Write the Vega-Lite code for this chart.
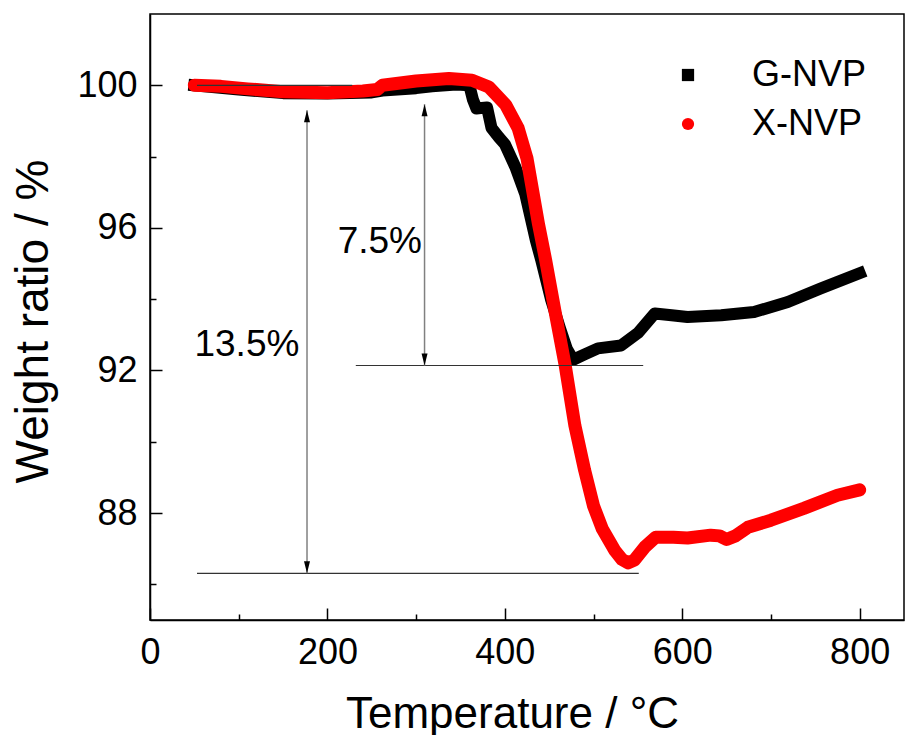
{
  "$schema": "https://vega.github.io/schema/vega-lite/v6.json",
  "width": 754,
  "height": 606,
  "autosize": {"type": "none"},
  "padding": {"left": 150, "top": 14, "right": 2, "bottom": 115},
  "background": "white",
  "config": {
    "font": "Liberation Sans",
    "view": {"stroke": "black", "strokeWidth": 1.5},
    "axis": {
      "grid": false,
      "domainColor": "black",
      "domainWidth": 1.5,
      "tickColor": "black",
      "tickWidth": 1.5,
      "labelColor": "black",
      "titleColor": "black",
      "labelFont": "Liberation Sans",
      "titleFont": "Liberation Sans",
      "titleFontWeight": "normal",
      "labelFontSize": 36,
      "labelFlush": false,
      "labelOverlap": false
    }
  },
  "datasets": {
    "curves": [
      {"T": 50, "w": 100.0, "sample": "G-NVP"},
      {"T": 100, "w": 99.88, "sample": "G-NVP"},
      {"T": 150, "w": 99.78, "sample": "G-NVP"},
      {"T": 200, "w": 99.77, "sample": "G-NVP"},
      {"T": 250, "w": 99.8, "sample": "G-NVP"},
      {"T": 262, "w": 99.85, "sample": "G-NVP"},
      {"T": 300, "w": 99.92, "sample": "G-NVP"},
      {"T": 318, "w": 99.97, "sample": "G-NVP"},
      {"T": 345, "w": 100.02, "sample": "G-NVP"},
      {"T": 360, "w": 100.0, "sample": "G-NVP"},
      {"T": 364, "w": 99.6, "sample": "G-NVP"},
      {"T": 368, "w": 99.35, "sample": "G-NVP"},
      {"T": 380, "w": 99.38, "sample": "G-NVP"},
      {"T": 385, "w": 98.8, "sample": "G-NVP"},
      {"T": 393, "w": 98.55, "sample": "G-NVP"},
      {"T": 400, "w": 98.35, "sample": "G-NVP"},
      {"T": 412, "w": 97.7, "sample": "G-NVP"},
      {"T": 423, "w": 96.95, "sample": "G-NVP"},
      {"T": 435, "w": 95.65, "sample": "G-NVP"},
      {"T": 441, "w": 95.1, "sample": "G-NVP"},
      {"T": 452, "w": 94.0, "sample": "G-NVP"},
      {"T": 462, "w": 93.2, "sample": "G-NVP"},
      {"T": 470, "w": 92.6, "sample": "G-NVP"},
      {"T": 477, "w": 92.3, "sample": "G-NVP"},
      {"T": 490, "w": 92.45, "sample": "G-NVP"},
      {"T": 505, "w": 92.62, "sample": "G-NVP"},
      {"T": 531, "w": 92.7, "sample": "G-NVP"},
      {"T": 550, "w": 93.05, "sample": "G-NVP"},
      {"T": 569, "w": 93.6, "sample": "G-NVP"},
      {"T": 588, "w": 93.55, "sample": "G-NVP"},
      {"T": 606, "w": 93.5, "sample": "G-NVP"},
      {"T": 644, "w": 93.55, "sample": "G-NVP"},
      {"T": 681, "w": 93.64, "sample": "G-NVP"},
      {"T": 719, "w": 93.92, "sample": "G-NVP"},
      {"T": 756, "w": 94.3, "sample": "G-NVP"},
      {"T": 800, "w": 94.73, "sample": "G-NVP"},
      {"T": 50, "w": 100.0, "sample": "X-NVP"},
      {"T": 80, "w": 99.97, "sample": "X-NVP"},
      {"T": 110, "w": 99.9, "sample": "X-NVP"},
      {"T": 150, "w": 99.82, "sample": "X-NVP"},
      {"T": 200, "w": 99.79, "sample": "X-NVP"},
      {"T": 240, "w": 99.84, "sample": "X-NVP"},
      {"T": 256, "w": 99.88, "sample": "X-NVP"},
      {"T": 262, "w": 100.0, "sample": "X-NVP"},
      {"T": 300, "w": 100.12, "sample": "X-NVP"},
      {"T": 337, "w": 100.19, "sample": "X-NVP"},
      {"T": 363, "w": 100.14, "sample": "X-NVP"},
      {"T": 382, "w": 99.95, "sample": "X-NVP"},
      {"T": 401, "w": 99.45, "sample": "X-NVP"},
      {"T": 415, "w": 98.8, "sample": "X-NVP"},
      {"T": 425, "w": 97.95, "sample": "X-NVP"},
      {"T": 438, "w": 96.1, "sample": "X-NVP"},
      {"T": 446, "w": 95.1, "sample": "X-NVP"},
      {"T": 457, "w": 93.6, "sample": "X-NVP"},
      {"T": 468, "w": 92.15, "sample": "X-NVP"},
      {"T": 479, "w": 90.45, "sample": "X-NVP"},
      {"T": 490, "w": 89.2, "sample": "X-NVP"},
      {"T": 500, "w": 88.2, "sample": "X-NVP"},
      {"T": 510, "w": 87.55, "sample": "X-NVP"},
      {"T": 524, "w": 86.95, "sample": "X-NVP"},
      {"T": 532, "w": 86.7, "sample": "X-NVP"},
      {"T": 539, "w": 86.6, "sample": "X-NVP"},
      {"T": 546, "w": 86.68, "sample": "X-NVP"},
      {"T": 558, "w": 87.05, "sample": "X-NVP"},
      {"T": 570, "w": 87.32, "sample": "X-NVP"},
      {"T": 590, "w": 87.32, "sample": "X-NVP"},
      {"T": 606, "w": 87.3, "sample": "X-NVP"},
      {"T": 632, "w": 87.38, "sample": "X-NVP"},
      {"T": 642, "w": 87.36, "sample": "X-NVP"},
      {"T": 650, "w": 87.26, "sample": "X-NVP"},
      {"T": 660, "w": 87.36, "sample": "X-NVP"},
      {"T": 674, "w": 87.6, "sample": "X-NVP"},
      {"T": 700, "w": 87.8, "sample": "X-NVP"},
      {"T": 737, "w": 88.13, "sample": "X-NVP"},
      {"T": 775, "w": 88.5, "sample": "X-NVP"},
      {"T": 800, "w": 88.65, "sample": "X-NVP"}
    ],
    "hlines": [
      {"x1": 53, "x2": 228, "y": 100.0},
      {"x1": 232, "x2": 556, "y": 92.14},
      {"x1": 53, "x2": 551, "y": 86.31}
    ],
    "vlines": [
      {"x": 177, "y1": 99.3, "y2": 86.31},
      {"x": 309.5, "y1": 99.47, "y2": 92.14}
    ],
    "upheads": [
      {"x": 177, "y": 99.3},
      {"x": 309.5, "y": 99.47}
    ],
    "downheads": [
      {"x": 177, "y": 86.31},
      {"x": 309.5, "y": 92.14}
    ],
    "labels": [
      {"x": 306.6, "y": 95.3, "text": "7.5%"},
      {"x": 168.4, "y": 92.41, "text": "13.5%"}
    ]
  },
  "layer": [
    {
      "layer": [
        {
          "data": {"name": "curves"},
          "transform": [{"filter": "datum.sample === 'G-NVP'"}],
          "mark": {"type": "line", "color": "#000000", "strokeWidth": 12, "strokeCap": "square", "strokeJoin": "round"},
          "encoding": {
            "x": {
              "field": "T", "type": "quantitative",
              "scale": {"domain": [0, 850], "nice": false, "zero": false},
              "axis": {
                "values": [0, 200, 400, 600, 800],
                "tickSize": -12,
                "labelPadding": 27,
                "title": "Temperature / °C",
                "titleFontSize": 44,
                "titleX": 362,
                "titleY": 107,
                "titleBaseline": "alphabetic",
                "titleAlign": "center",
                "titleAnchor": null
              }
            },
            "y": {
              "field": "w", "type": "quantitative",
              "scale": {"domain": [85, 102], "nice": false, "zero": false},
              "axis": {
                "values": [88, 92, 96, 100],
                "tickSize": -12,
                "labelPadding": 25,
                "title": "Weight ratio / %",
                "titleFontSize": 46,
                "titleAngle": -90,
                "titleX": -103,
                "titleY": 307,
                "titleBaseline": "alphabetic",
                "titleAlign": "center",
                "titleAnchor": null
              }
            }
          }
        },
        {
          "data": {"name": "curves"},
          "transform": [{"filter": "datum.sample === 'X-NVP'"}],
          "mark": {"type": "line", "color": "#ff0000", "strokeWidth": 13, "strokeCap": "round", "strokeJoin": "round"},
          "encoding": {
            "x": {"field": "T", "type": "quantitative"},
            "y": {"field": "w", "type": "quantitative"}
          }
        },
        {
          "data": {"name": "curves"},
          "mark": {"type": "point", "filled": true, "opacity": 0},
          "encoding": {
            "x": {"field": "T", "type": "quantitative"},
            "y": {"field": "w", "type": "quantitative"},
            "color": {
              "field": "sample", "type": "nominal",
              "scale": {"domain": ["G-NVP", "X-NVP"], "range": ["#000000", "#ff0000"]},
              "legend": {"orient": "none", "legendX": 520, "legendY": 43, "title": null, "symbolSize": 150, "symbolOpacity": 1, "symbolStrokeWidth": 0, "labelFontSize": 36, "labelOffset": 46, "rowPadding": 13, "padding": 0, "labelColor": "black", "labelFont": "Liberation Sans"}
            },
            "shape": {
              "field": "sample", "type": "nominal",
              "scale": {"domain": ["G-NVP", "X-NVP"], "range": ["square", "circle"]},
              "legend": {"orient": "none", "legendX": 520, "legendY": 43, "title": null, "symbolSize": 150, "symbolOpacity": 1, "symbolStrokeWidth": 0, "labelFontSize": 36, "labelOffset": 46, "rowPadding": 13, "padding": 0, "labelColor": "black", "labelFont": "Liberation Sans"}
            }
          }
        },
        {
          "data": {"name": "hlines"},
          "mark": {"type": "rule", "color": "#333333", "strokeWidth": 1.2},
          "encoding": {
            "x": {"field": "x1", "type": "quantitative"},
            "x2": {"field": "x2"},
            "y": {"field": "y", "type": "quantitative"}
          }
        },
        {
          "data": {"name": "vlines"},
          "mark": {"type": "rule", "color": "#808080", "strokeWidth": 1.5},
          "encoding": {
            "x": {"field": "x", "type": "quantitative"},
            "y": {"field": "y1", "type": "quantitative"},
            "y2": {"field": "y2"}
          }
        },
        {
          "data": {"name": "upheads"},
          "mark": {"type": "point", "shape": "M0,0L-0.5,2L0.5,2Z", "size": 144, "filled": true, "color": "#000000", "opacity": 1, "strokeWidth": 0},
          "encoding": {
            "x": {"field": "x", "type": "quantitative"},
            "y": {"field": "y", "type": "quantitative"}
          }
        },
        {
          "data": {"name": "downheads"},
          "mark": {"type": "point", "shape": "M0,0L-0.5,-2L0.5,-2Z", "size": 144, "filled": true, "color": "#000000", "opacity": 1, "strokeWidth": 0},
          "encoding": {
            "x": {"field": "x", "type": "quantitative"},
            "y": {"field": "y", "type": "quantitative"}
          }
        },
        {
          "data": {"name": "labels"},
          "mark": {"type": "text", "align": "right", "baseline": "alphabetic", "fontSize": 37, "font": "Liberation Sans", "color": "#000000"},
          "encoding": {
            "x": {"field": "x", "type": "quantitative"},
            "y": {"field": "y", "type": "quantitative"},
            "text": {"field": "text"}
          }
        }
      ]
    },
    {
      "data": {"name": "curves"},
      "mark": {"type": "point", "opacity": 0},
      "encoding": {
        "x": {
          "field": "T", "type": "quantitative",
          "scale": {"domain": [0, 850], "nice": false, "zero": false},
          "axis": {"orient": "bottom", "values": [100, 300, 500, 700], "labels": false, "domain": false, "tickSize": -6, "title": null}
        },
        "y": {
          "field": "w", "type": "quantitative",
          "scale": {"domain": [85, 102], "nice": false, "zero": false},
          "axis": {"orient": "left", "values": [86, 90, 94, 98], "labels": false, "domain": false, "tickSize": -6, "title": null}
        }
      }
    }
  ],
  "resolve": {"axis": {"x": "independent", "y": "independent"}}
}
